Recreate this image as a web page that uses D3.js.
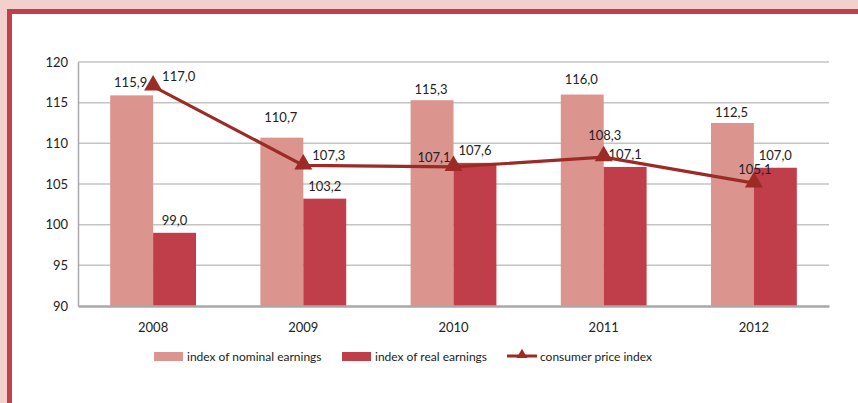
<!DOCTYPE html>
<html>
<head>
<meta charset="utf-8">
<script src="https://cdn.jsdelivr.net/npm/d3@7"></script>
<style>
  html, body { margin: 0; padding: 0; background: #f2d1cc; }
  svg { display: block; }
  text { font-family: Lato, "Open Sans", sans-serif; fill: #222; }
</style>
</head>
<body>
<div id="chart"></div>
<script>
// data
const years = ["2008", "2009", "2010", "2011", "2012"];
const nominal = [115.9, 110.7, 115.3, 116.0, 112.5];
const real = [99.0, 103.2, 107.6, 107.1, 107.0];
const cpi = [117.0, 107.3, 107.1, 108.3, 105.1];
const yTicks = [90, 95, 100, 105, 110, 115, 120];
const seriesNames = ["index of nominal earnings", "index of real earnings", "consumer price index"];

// label placement for the cpi points (as in the original)
const cpiLabelPos = ["right", "right", "left", "above", "above"];
const nominalLabelShift = [0, -8, 2, -3, 2];

const W = 858, H = 403;
const colNominal = "#dc948f", colReal = "#c03d4a", colLine = "#9c2b25";
const fontFam = "Lato, \"Open Sans\", sans-serif";

const svg = d3.select("#chart")
    .append("svg")
    .attr("width", W)
    .attr("height", H);

// frame
svg.append("rect").attr("x", 0).attr("y", 0).attr("width", W).attr("height", H).attr("fill", "#f2d1cc");
svg.append("rect").attr("x", 7).attr("y", 9).attr("width", W - 7).attr("height", H - 9).attr("fill", "#c2404d");
svg.append("rect").attr("x", 12).attr("y", 14).attr("width", W - 12).attr("height", H - 14).attr("fill", "#ffffff");

const plot = { left: 78, right: 829, top: 62, bottom: 306 };

const x = d3.scaleBand()
    .domain(years)
    .range([plot.left, plot.right]);

const xInner = d3.scaleBand()
    .domain(["nominal", "real"])
    .range([0, x.bandwidth()])
    .paddingInner(0)
    .paddingOuter(0.75);

const y = d3.scaleLinear()
    .domain([90, 120])
    .range([plot.bottom, plot.top]);

// grid lines
svg.append("g")
    .selectAll("line")
    .data(yTicks.filter(d => d > 90))
    .enter()
    .append("line")
    .attr("x1", plot.left)
    .attr("x2", plot.right)
    .attr("y1", d => y(d))
    .attr("y2", d => y(d))
    .attr("stroke", "#c4c4c4")
    .attr("stroke-width", 1.5);

// y axis
const yAxis = svg.append("g")
    .attr("transform", `translate(${plot.left},0)`)
    .call(d3.axisLeft(y).tickValues(yTicks).tickSize(0).tickPadding(10));
yAxis.select(".domain").attr("stroke", "#a8a8ac").attr("stroke-width", 1.5);
yAxis.selectAll("text").style("font-size", "13px").style("font-family", fontFam).attr("fill", "#222");

// bars
const groups = svg.append("g")
    .selectAll("g")
    .data(years)
    .enter()
    .append("g")
    .attr("transform", d => `translate(${x(d)},0)`);

groups.append("rect")
    .attr("x", xInner("nominal"))
    .attr("width", xInner.bandwidth())
    .attr("y", (d, i) => y(nominal[i]))
    .attr("height", (d, i) => y(90) - y(nominal[i]))
    .attr("fill", colNominal);

groups.append("rect")
    .attr("x", xInner("real"))
    .attr("width", xInner.bandwidth())
    .attr("y", (d, i) => y(real[i]))
    .attr("height", (d, i) => y(90) - y(real[i]))
    .attr("fill", colReal);

const fmt = v => v.toFixed(1).replace(".", ",");

groups.append("text")
    .attr("x", xInner("nominal") + xInner.bandwidth() / 2 - 1)
    .attr("y", (d, i) => y(nominal[i]) - 8 + nominalLabelShift[i])
    .attr("text-anchor", "middle")
    .style("font-size", "13px")
    .text((d, i) => fmt(nominal[i]));

groups.append("text")
    .attr("x", xInner("real") + xInner.bandwidth() / 2)
    .attr("y", (d, i) => y(real[i]) - 8)
    .attr("text-anchor", "middle")
    .style("font-size", "13px")
    .text((d, i) => fmt(real[i]));

// x axis
const xAxis = svg.append("g")
    .attr("transform", `translate(0,${plot.bottom})`)
    .call(d3.axisBottom(x).tickSize(0).tickPadding(17));
xAxis.select(".domain").attr("stroke", "#a8a8ac").attr("stroke-width", 2.5);
xAxis.selectAll("text").style("font-size", "13px").style("font-family", fontFam).attr("fill", "#222");

// cpi line
const cx = d => x(d) + x.bandwidth() / 2;
const line = d3.line()
    .x(d => cx(d))
    .y((d, i) => y(cpi[i]));

svg.append("path")
    .datum(years)
    .attr("d", line)
    .attr("fill", "none")
    .attr("stroke", colLine)
    .attr("stroke-width", 3.2);

const tri = d3.symbol().type(d3.symbolTriangle).size(140);

svg.append("g")
    .selectAll("path")
    .data(years)
    .enter()
    .append("path")
    .attr("d", tri)
    .attr("transform", (d, i) => `translate(${cx(d)},${y(cpi[i]) - 1})`)
    .attr("fill", colLine);

svg.append("g")
    .selectAll("text")
    .data(years)
    .enter()
    .append("text")
    .attr("x", (d, i) => {
        const p = cpiLabelPos[i];
        if (p === "right") return cx(d) + 9;
        if (p === "left") return cx(d) - 3;
        return cx(d) + 1;
    })
    .attr("y", (d, i) => {
        const p = cpiLabelPos[i];
        if (p === "above") return y(cpi[i]) - (i === 3 ? 17 : 9);
        return y(cpi[i]) - 5;
    })
    .attr("text-anchor", (d, i) => cpiLabelPos[i] === "right" ? "start" : cpiLabelPos[i] === "left" ? "end" : "middle")
    .style("font-size", "13px")
    .text((d, i) => fmt(cpi[i]));

// legend
const legend = svg.append("g").attr("transform", "translate(0,356)");
const legendX = [154, 342, 507];

legend.append("rect").attr("x", legendX[0]).attr("y", -4).attr("width", 29).attr("height", 9).attr("fill", colNominal);
legend.append("rect").attr("x", legendX[1]).attr("y", -4).attr("width", 29).attr("height", 9).attr("fill", colReal);
legend.append("line").attr("x1", legendX[2]).attr("x2", legendX[2] + 30).attr("y1", 0).attr("y2", 0)
    .attr("stroke", colLine).attr("stroke-width", 3);
legend.append("path").attr("d", d3.symbol().type(d3.symbolTriangle).size(50))
    .attr("transform", `translate(${legendX[2] + 15},-1)`).attr("fill", colLine);

legend.selectAll("text.lg")
    .data(seriesNames)
    .enter()
    .append("text")
    .attr("class", "lg")
    .attr("x", (d, i) => legendX[i] + 33)
    .attr("y", 4.5)
    .style("font-size", "12px")
    .text(d => d);
</script>
</body>
</html>
